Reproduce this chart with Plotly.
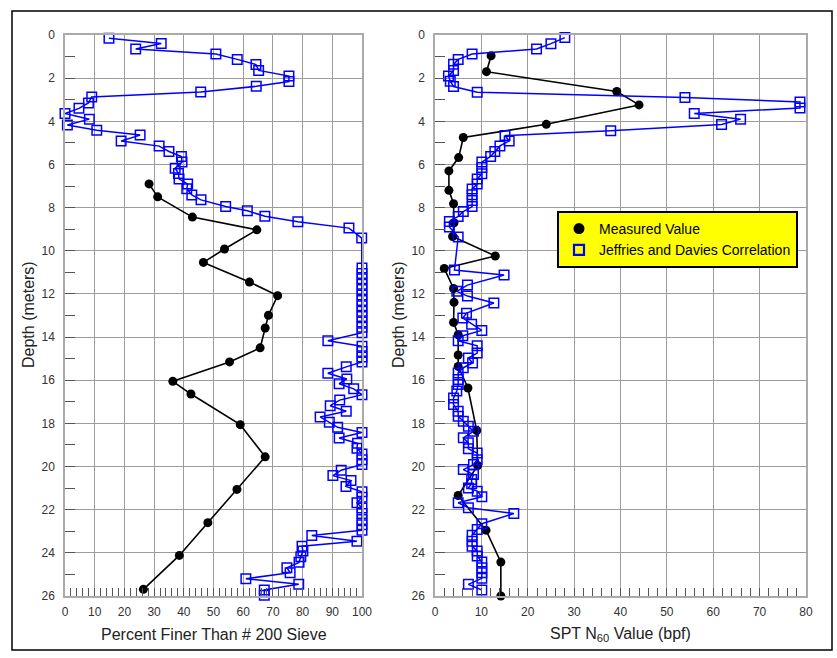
import plotly.graph_objects as go

# ---------------- data ----------------
# Left panel: percent finer than #200 sieve
fines_meas_depth = [6.9, 7.5, 8.44, 9.03, 9.92, 10.54, 11.45, 12.08, 12.99, 13.58, 14.5, 15.15,
                    16.05, 16.64, 18.06, 19.55, 21.06, 22.6, 24.12, 25.69]
fines_meas_value = [28.3, 31.2, 42.9, 64.6, 53.7, 46.6, 62.1, 71.6, 68.5, 67.4, 65.7, 55.4,
                    36.3, 42.4, 59.0, 67.4, 57.9, 48.1, 38.5, 26.4]

fines_corr_depth = [0.15, 0.39, 0.65, 0.88, 1.13, 1.37, 1.64, 1.90, 2.16, 2.38, 2.64, 2.87,
                    3.15, 3.40, 3.64, 3.90, 4.17, 4.41, 4.64, 4.91, 5.15, 5.40, 5.63, 5.89,
                    6.17, 6.42, 6.67, 6.91, 7.13, 7.41, 7.64, 7.95, 8.15, 8.40, 8.66, 8.95,
                    9.41, 10.80, 11.05, 11.30, 11.55, 11.80, 12.05, 12.30, 12.55, 12.80, 13.05,
                    13.30, 13.55, 13.80, 14.17, 14.42, 14.67, 14.92, 15.15, 15.38, 15.68, 15.94,
                    16.16, 16.40, 16.67, 16.92, 17.18, 17.44, 17.70, 17.95, 18.18, 18.42, 18.68,
                    18.92, 19.15, 19.42, 19.68, 19.90, 20.17, 20.42, 20.65, 20.92, 21.17, 21.42,
                    21.68, 21.92, 22.18, 22.45, 22.70, 22.95, 23.20, 23.46, 23.69, 23.92, 24.18,
                    24.44, 24.69, 24.92, 25.20, 25.46, 25.72, 25.96]
fines_corr_value = [14.8, 32.4, 23.8, 50.8, 58.0, 64.3, 65.2, 75.4, 75.4, 64.4, 45.7, 9.0,
                    7.9, 4.7, 0.0, 8.2, 0.8, 10.7, 25.3, 18.9, 31.7, 35.0, 39.2, 39.4,
                    37.1, 38.2, 38.4, 41.3, 41.0, 42.7, 45.8, 54.1, 61.4, 67.3, 78.4, 95.6,
                    99.9, 100, 100, 100, 100, 100, 100, 100, 100, 100, 100,
                    100, 100, 100, 88.5, 100, 100, 100, 100, 94.7, 88.5, 94.9,
                    92.3, 97.2, 100, 92.5, 89.3, 94.7, 85.9, 89.0, 91.8, 100, 92.3,
                    98.5, 98.3, 100, 100, 100, 93.0, 90.2, 96.3, 94.6, 100, 100,
                    98.3, 100, 100, 100, 100, 100, 83.1, 98.3, 79.8, 80.1, 79.4,
                    78.8, 74.7, 75.8, 60.9, 78.7, 67.1, 67.1]

# Right panel: SPT N60
spt_meas_depth = [0.96, 1.70, 2.62, 3.24, 4.14, 4.75, 5.68, 6.30, 7.20, 7.82, 8.70, 9.34,
                  10.24, 10.82, 11.75, 12.39, 13.32, 13.89, 14.83, 15.36, 16.36, 18.33,
                  19.95, 21.34, 22.95, 24.43, 26.0]
spt_meas_value = [12.1, 11.1, 39.2, 44.0, 24.0, 6.1, 5.1, 3.0, 3.0, 4.0, 4.1, 3.8,
                  13.0, 2.0, 4.0, 4.1, 4.0, 5.0, 5.0, 5.0, 7.1, 9.0,
                  9.2, 5.0, 11.0, 14.2, 14.2]

spt_corr_depth = [0.12, 0.40, 0.65, 0.88, 1.13, 1.36, 1.65, 1.90, 2.14, 2.39, 2.65, 2.90,
                  3.10, 3.38, 3.64, 3.90, 4.15, 4.44, 4.66, 4.91, 5.14, 5.40, 5.63, 5.89,
                  6.14, 6.43, 6.67, 6.91, 7.14, 7.40, 7.67, 7.95, 8.18, 8.41, 8.64, 8.90,
                  9.36, 10.89, 11.12, 11.59, 11.88, 12.10, 12.42, 12.89, 13.12, 13.40, 13.69,
                  13.94, 14.17, 14.40, 14.74, 14.97, 15.20, 15.42, 15.66, 15.97, 16.20, 16.50,
                  16.82, 17.13, 17.44, 17.67, 17.90, 18.13, 18.37, 18.67, 18.90, 19.18, 19.37,
                  19.68, 19.91, 20.14, 20.37, 20.60, 20.80, 20.99, 21.14, 21.40, 21.68, 21.91,
                  22.18, 22.65, 22.92, 23.18, 23.46, 23.69, 23.92, 24.15, 24.42, 24.69, 24.92,
                  25.18, 25.46, 25.72]
spt_corr_value = [28.0, 25.0, 21.9, 8.0, 5.0, 4.0, 4.0, 2.9, 3.3, 4.0, 9.1, 53.9,
                  78.7, 78.7, 55.9, 65.9, 61.8, 37.9, 15.1, 16.0, 14.0, 12.9, 12.0, 10.1,
                  10.1, 10.1, 9.1, 9.1, 8.0, 8.0, 8.0, 8.0, 6.1, 5.0, 3.1, 3.1,
                  5.0, 4.2, 14.9, 7.0, 4.7, 7.0, 12.7, 6.8, 6.0, 7.9, 10.1,
                  6.0, 5.0, 9.1, 9.1, 7.2, 8.1, 6.1, 5.0, 5.0, 5.0, 4.7,
                  4.0, 4.0, 5.0, 5.0, 6.1, 7.2, 8.3, 6.1, 7.2, 7.2, 9.1,
                  9.1, 8.3, 6.1, 8.3, 7.9, 7.9, 7.2, 9.1, 10.1, 5.0, 7.2,
                  17.0, 10.1, 9.1, 8.0, 8.0, 8.0, 9.1, 9.1, 10.1, 10.1, 10.1,
                  10.1, 7.2, 10.1]

# ---------------- figure ----------------
FONT = "Liberation Sans, Arial, sans-serif"
BLUE = "#0000ff"

fig = go.Figure()

def add_pair(xm, ym, xc, yc, xa, ya):
    fig.add_trace(go.Scatter(
        x=xm, y=ym, xaxis=xa, yaxis=ya, mode="lines+markers", showlegend=False,
        line=dict(color="black", width=1.6),
        marker=dict(symbol="circle", size=9, color="black"), cliponaxis=False))
    fig.add_trace(go.Scatter(
        x=xc, y=yc, xaxis=xa, yaxis=ya, mode="lines+markers", showlegend=False,
        line=dict(color=BLUE, width=1.5),
        marker=dict(symbol="square-open", size=9.5, color=BLUE, line=dict(width=1.5)),
        cliponaxis=False))

add_pair(fines_meas_value, fines_meas_depth, fines_corr_value, fines_corr_depth, "x", "y")
add_pair(spt_meas_value, spt_meas_depth, spt_corr_value, spt_corr_depth, "x2", "y2")

# legend-only entries
fig.add_trace(go.Scatter(x=[None], y=[None], xaxis="x2", yaxis="y2", mode="markers",
                         name="Measured Value",
                         marker=dict(symbol="circle", size=11, color="black")))
fig.add_trace(go.Scatter(x=[None], y=[None], xaxis="x2", yaxis="y2", mode="markers",
                         name="Jeffries and Davies Correlation",
                         marker=dict(symbol="square-open", size=10, color=BLUE,
                                     line=dict(width=2.2))))

GRID = "#9c9c9c"
TICKC = "#555555"
LINE = "#aaaaaa"
TICKFONT = dict(family=FONT, size=12, color="#333333")

def xaxis_cfg(domain, rng):
    return dict(domain=domain, range=rng, tickmode="linear", tick0=0, dtick=10,
                showgrid=True, gridcolor=GRID, gridwidth=1.4,
                showline=True, linecolor=LINE, linewidth=1.5, mirror=True,
                zeroline=False, ticks="inside", ticklen=8, tickcolor=TICKC, tickwidth=1.2,
                minor=dict(dtick=2, ticks="inside", ticklen=8, tickcolor=TICKC,
                           tickwidth=1.2, showgrid=False),
                tickfont=TICKFONT, ticklabelstandoff=4)

def yaxis_cfg(anchor):
    return dict(anchor=anchor, range=[26, 0], dtick=2, showgrid=True,
                gridcolor=GRID, gridwidth=1.4, showline=True, linecolor=LINE, linewidth=1.5,
                mirror=True, zeroline=False, ticks="inside", ticklen=10, tickcolor=TICKC,
                tickwidth=1.2,
                minor=dict(dtick=1, ticks="inside", ticklen=10, tickcolor=TICKC,
                           tickwidth=1.2),
                tickfont=TICKFONT, ticklabelstandoff=6)

W, H = 837, 658
ML, MR, MT, MB = 65, 31, 35, 62
PW = W - ML - MR
PH = H - MT - MB

def px(xp):
    return (xp - ML) / PW

def py(yp):
    return (H - MB - yp) / PH

fig.update_layout(
    width=W, height=H,
    margin=dict(l=ML, r=MR, t=MT, b=MB),
    paper_bgcolor="white", plot_bgcolor="white",
    font=dict(family=FONT, color="#222222"),
    xaxis=xaxis_cfg([0, px(362)], [0, 100]),
    yaxis=yaxis_cfg("x"),
    xaxis2=xaxis_cfg([px(435), 1], [0, 80]),
    yaxis2=yaxis_cfg("x2"),
    legend=dict(x=px(557), y=py(211), xanchor="left", yanchor="top",
                bgcolor="#ffff00", bordercolor="black", borderwidth=2,
                font=dict(family=FONT, size=14, color="black"),
                itemwidth=30, tracegroupgap=0),
    showlegend=True,
)

annots = [
    dict(text="Percent Finer Than # 200 Sieve", x=px(214), y=py(634)),
    dict(text="SPT N<sub>60</sub> Value (bpf)", x=px(620), y=py(634)),
    dict(text="Depth (meters)", x=px(28), y=py(315), textangle=-90),
    dict(text="Depth (meters)", x=px(398), y=py(315), textangle=-90),
]
for a in annots:
    fig.add_annotation(xref="paper", yref="paper", showarrow=False,
                       xanchor="center", yanchor="middle",
                       font=dict(family=FONT, size=16, color="#222222"), **a)

# outer frame
fig.add_shape(type="rect", xref="paper", yref="paper",
              x0=px(12), x1=px(832), y0=py(650), y1=py(11),
              line=dict(color="black", width=1.5), fillcolor="rgba(0,0,0,0)")

fig.write_html("out.html")
